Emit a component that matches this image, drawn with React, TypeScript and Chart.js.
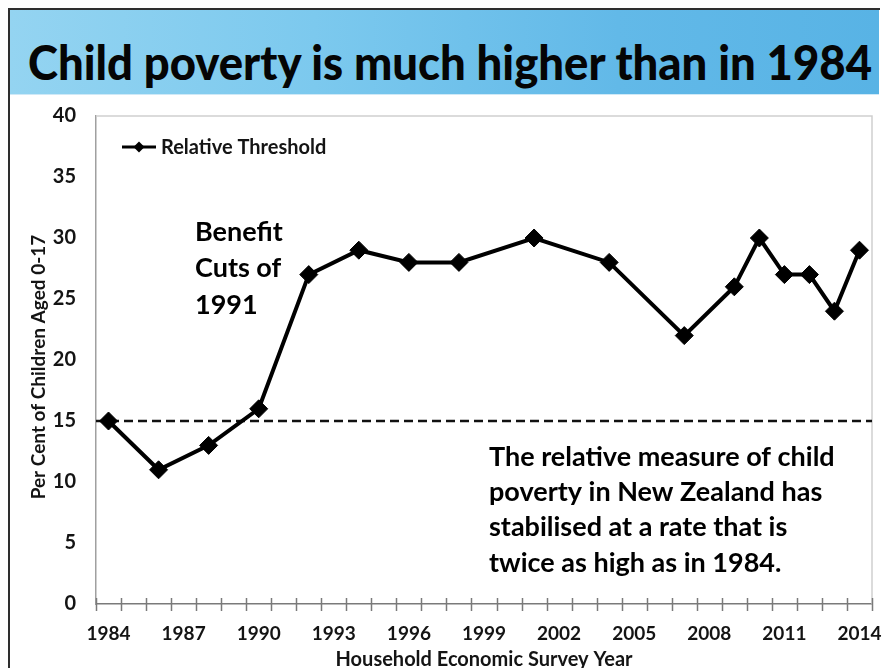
import React, { useEffect, useLayoutEffect, useRef } from 'react';
import { Chart, registerables } from 'chart.js';

Chart.register(...registerables);

const TITLE = 'Child poverty is much higher than in 1984';
const SERIES_LABEL = 'Relative Threshold';
const X_TITLE = 'Household Economic Survey Year';
const Y_TITLE = 'Per Cent of Children Aged 0-17';

const YEAR_LABELS = [
  '1984', '1985', '1986', '1987', '1988', '1989', '1990', '1991', '1992', '1993',
  '1994', '1995', '1996', '1997', '1998', '1999', '2000', '2001', '2002', '2003',
  '2004', '2005', '2006', '2007', '2008', '2009', '2010', '2011', '2012', '2013', '2014',
];
const SHOWN_YEAR_LABELS = ['1984', '1987', '1990', '1993', '1996', '1999', '2002', '2005', '2008', '2011', '2014'];

const SURVEY_YEARS = ['1984', '1986', '1988', '1990', '1992', '1994', '1996', '1998', '2001', '2004', '2007', '2009', '2010', '2011', '2012', '2013', '2014'];
const CHILD_POVERTY_RATE = [15, 11, 13, 16, 27, 29, 28, 28, 30, 28, 22, 26, 30, 27, 27, 24, 29];

const THRESHOLD_1984 = 15;
const Y_MIN = 0;
const Y_MAX = 40;
const Y_STEP = 5;

const NOTE_BENEFIT = ['Benefit', 'Cuts of', '1991'];
const NOTE_MAIN = [
  'The relative measure of child',
  'poverty in New Zealand has',
  'stabilised at a rate that is',
  'twice as high as in 1984.',
];

const FONT = 'Lato, "Open Sans", sans-serif';
const TEXT = '#141414';

const decorPlugin = {
  id: 'decor',
  beforeDatasetsDraw(chart: any) {
    const { ctx, chartArea: a, scales } = chart;
    const y = scales.y;
    ctx.save();
    ctx.strokeStyle = '#cfcfcf';
    ctx.lineWidth = 1.5;
    ctx.beginPath();
    ctx.moveTo(a.left, a.top);
    ctx.lineTo(a.right, a.top);
    ctx.lineTo(a.right, a.bottom);
    ctx.stroke();
    const ty = y.getPixelForValue(THRESHOLD_1984);
    ctx.strokeStyle = '#111';
    ctx.lineWidth = 2.5;
    ctx.setLineDash([9, 5]);
    ctx.beginPath();
    ctx.moveTo(a.left, ty);
    ctx.lineTo(a.right, ty);
    ctx.stroke();
    ctx.restore();
  },
  afterDraw(chart: any) {
    const { ctx, chartArea: a, scales } = chart;
    const x = scales.x;
    ctx.save();
    ctx.strokeStyle = '#7a7a7a';
    ctx.lineWidth = 1.5;
    for (let i = 0; i <= YEAR_LABELS.length; i++) {
      const px = Math.round(x.getPixelForValue(i - 0.5)) + 0.5;
      ctx.beginPath();
      ctx.moveTo(px, a.bottom - 6);
      ctx.lineTo(px, a.bottom + 7);
      ctx.stroke();
    }
    // y-axis title
    ctx.save();
    ctx.translate(39, 367);
    ctx.rotate(-Math.PI / 2);
    ctx.fillStyle = TEXT;
    ctx.font = `bold 19px ${FONT}`;
    ctx.textAlign = 'center';
    ctx.textBaseline = 'middle';
    ctx.fillText(Y_TITLE, 0, 0);
    ctx.restore();
    // legend
    const ly = 147;
    ctx.strokeStyle = '#000';
    ctx.lineWidth = 3;
    ctx.beginPath();
    ctx.moveTo(122, ly);
    ctx.lineTo(156, ly);
    ctx.stroke();
    ctx.fillStyle = '#000';
    ctx.beginPath();
    ctx.moveTo(139, ly - 5.5);
    ctx.lineTo(144.5, ly);
    ctx.lineTo(139, ly + 5.5);
    ctx.lineTo(133.5, ly);
    ctx.closePath();
    ctx.fill();
    ctx.fillStyle = TEXT;
    ctx.font = `bold 20px ${FONT}`;
    ctx.textAlign = 'left';
    ctx.textBaseline = 'middle';
    ctx.fillText(SERIES_LABEL, 161, ly + 1);
    // annotations
    ctx.font = `bold 27px ${FONT}`;
    ctx.fillStyle = '#000';
    NOTE_BENEFIT.forEach((t, i) => ctx.fillText(t, 195, 232 + i * 36.5));
    NOTE_MAIN.forEach((t, i) => ctx.fillText(t, 489, 457 + i * 35.3));
    ctx.restore();
  },
};

export default function App() {
  const canvasRef = useRef<HTMLCanvasElement | null>(null);
  const titleRef = useRef<HTMLSpanElement | null>(null);

  useLayoutEffect(() => {
    const el = titleRef.current;
    if (el) {
      el.style.transform = 'none';
      const w = el.getBoundingClientRect().width;
      if (w > 0) el.style.transform = `scaleX(${844 / w})`;
    }
  }, []);

  useEffect(() => {
    if (!canvasRef.current) return;
    const chart = new Chart(canvasRef.current, {
      type: 'line',
      data: {
        labels: YEAR_LABELS,
        datasets: [
          {
            label: SERIES_LABEL,
            data: SURVEY_YEARS.map((yr, i) => ({ x: yr, y: CHILD_POVERTY_RATE[i] })) as any,
            borderColor: '#000',
            borderWidth: 4,
            backgroundColor: '#000',
            pointStyle: 'rectRot',
            pointRadius: 9,
            pointBackgroundColor: '#000',
            pointBorderColor: '#000',
            pointBorderWidth: 1,
            tension: 0,
          },
        ],
      },
      options: {
        animation: false,
        responsive: false,
        maintainAspectRatio: false,
        layout: { padding: { left: 0, right: 10, top: 116, bottom: 0 } },
        plugins: {
          legend: { display: false },
          tooltip: { enabled: false },
          title: { display: false },
        },
        scales: {
          x: {
            type: 'category',
            offset: true,
            grid: { display: false, drawTicks: false },
            border: { display: true, color: '#7a7a7a', width: 1.5 },
            ticks: {
              autoSkip: false,
              maxRotation: 0,
              minRotation: 0,
              padding: 18,
              color: TEXT,
              font: { family: FONT, size: 19, weight: 'bold' },
              callback: (_v: any, i: number) =>
                SHOWN_YEAR_LABELS.includes(YEAR_LABELS[i]) ? YEAR_LABELS[i] : '',
            },
            title: {
              display: true,
              text: X_TITLE,
              color: TEXT,
              font: { family: FONT, size: 20, weight: 'bold' },
              padding: { top: 0, bottom: -4 },
            },
            afterFit: (s: any) => {
              s.height = 64;
              s.paddingLeft = 0;
              s.paddingRight = 0;
            },
          },
          y: {
            min: Y_MIN,
            max: Y_MAX,
            grid: { display: false, drawTicks: false },
            border: { display: true, color: '#a0a0a0', width: 1.5 },
            ticks: {
              stepSize: Y_STEP,
              padding: 20,
              color: TEXT,
              font: { family: FONT, size: 20, weight: 'bold' },
            },
            title: { display: false },
            afterFit: (s: any) => {
              s.width = 96;
            },
          },
        },
      },
      plugins: [decorPlugin],
    });
    return () => chart.destroy();
  }, []);

  return (
    <div style={{ position: 'fixed', left: 0, top: 0, width: 882, height: 668, background: '#fff', overflow: 'hidden' }}>
      <div
        style={{
          position: 'absolute',
          left: 8,
          top: 8,
          width: 870,
          height: 700,
          borderLeft: '2px solid #2e2e2e',
          borderTop: '2px solid #2e2e2e',
        }}
      />
      <div
        style={{
          position: 'absolute',
          left: 10,
          top: 10,
          width: 869,
          height: 84,
          background: 'linear-gradient(90deg, #94d4f1 0%, #7cc9ee 35%, #62b9e8 70%, #58b3e5 100%)',
          borderBottom: '1px solid #cfe9f7',
        }}
      />
      <div
        style={{
          position: 'absolute',
          left: 28,
          top: 33,
          whiteSpace: 'nowrap',
          lineHeight: '58px',
          height: 58,
        }}
      >
        <span
          ref={titleRef}
          style={{
            display: 'inline-block',
            fontFamily: FONT,
            fontWeight: 900,
            fontSize: 48,
            color: '#050505',
            transformOrigin: 'left center',
          }}
        >
          {TITLE}
        </span>
      </div>
      <canvas ref={canvasRef} width={882} height={668} style={{ position: 'absolute', left: 0, top: 0 }} />
    </div>
  );
}
